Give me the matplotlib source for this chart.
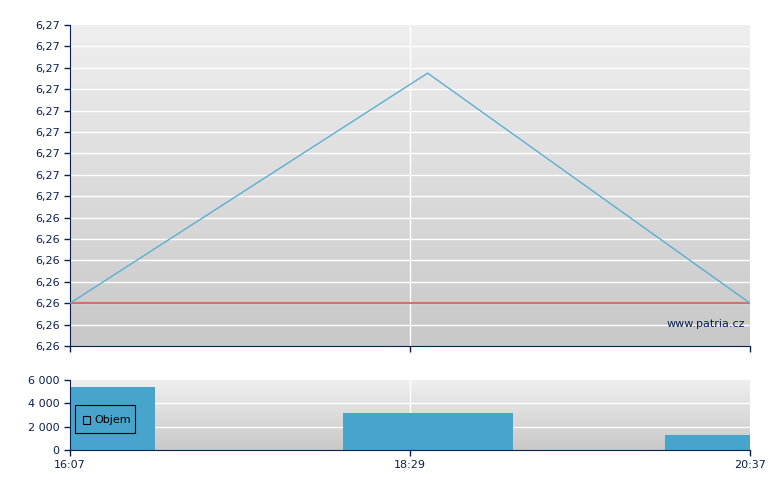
import numpy as np
import matplotlib.pyplot as plt
from matplotlib.ticker import FuncFormatter
from matplotlib.patches import Rectangle

# price line (minutes from 16:07)
price_t = [0, 142, 270]
price = [6.2616, 6.2702, 6.2616]
ref_price = 6.2616

# volume bars
vol_t = [0, 142, 270]
volume = [5400, 3170, 1290]

x_ticks = [0, 135, 270]
x_labels = ['16:07', '18:29', '20:37']

y_min, y_step = 6.2600, 0.0008
vol_ticks = [0, 2000, 4000, 6000]
vol_labels = ['0', '2 000', '4 000', '6 000']

navy = '#0a2050'
line_c = '#5aafd2'
bar_c = '#47a5cd'

fig = plt.figure(figsize=(7.8, 4.9), dpi=100)
ax = fig.add_axes([70/780, 1-346/490, 680/780, 321/490])
ax2 = fig.add_axes([70/780, 1-450/490, 680/780, 70/490])

grad = np.linspace(0, 1, 256).reshape(-1, 1)
for a in (ax, ax2):
    a.imshow(grad, extent=[0, 1, 0, 1], transform=a.transAxes, aspect='auto',
             cmap=plt.matplotlib.colors.LinearSegmentedColormap.from_list('g', ['#efefef', '#c8c8c8']),
             zorder=0)
    for s in ('top', 'right'):
        a.spines[s].set_visible(False)
    for s in ('left', 'bottom'):
        a.spines[s].set_color(navy)
    a.tick_params(colors=navy, labelcolor=navy, labelsize=8, length=4, width=1)
    a.set_xlim(0, 270)
    a.set_xticks(x_ticks)

# top chart
yt = [y_min + i * y_step for i in range(16)]
ax.set_ylim(yt[0], yt[-1])
ax.set_yticks(yt)
ax.yaxis.set_major_formatter(FuncFormatter(lambda v, p: f'{v:.2f}'.replace('.', ',')))
ax.set_xticklabels([])
for v in yt[1:-1]:
    ax.axhline(v, color='white', lw=1, zorder=1)
ax.axvline(135, color='white', lw=1, zorder=1)
ax.axhline(ref_price, color='#e06a6a', lw=1.5, zorder=2)
ax.plot(price_t, price, color=line_c, lw=1, zorder=3)
ax.text(0.993, 0.068, 'www.patria.cz', transform=ax.transAxes, ha='right', va='center',
        color=navy, fontsize=8, zorder=4)

# volume chart
ax2.set_ylim(0, 6000)
ax2.set_yticks(vol_ticks)
ax2.set_yticklabels(vol_labels)
ax2.set_xticklabels(x_labels)
for v in vol_ticks[1:-1]:
    ax2.axhline(v, color='white', lw=1, zorder=1)
ax2.axvline(135, color='white', lw=1, zorder=1)
ax2.bar(vol_t, volume, width=67.5, color=bar_c, zorder=2, clip_on=True)
ax2.add_patch(Rectangle((5/680, 0.24), 60/680, 0.4, transform=ax2.transAxes,
                        facecolor='none', edgecolor='black', lw=0.8, zorder=4))
ax2.add_patch(Rectangle((13/680, 0.37), 7/680, 0.11, transform=ax2.transAxes,
                        facecolor='none', edgecolor='black', lw=0.8, zorder=4))
ax2.text(24/680, 0.43, 'Objem', transform=ax2.transAxes, va='center', ha='left',
         fontsize=8, color='black', zorder=4)

fig.savefig('out.png', dpi=100)
